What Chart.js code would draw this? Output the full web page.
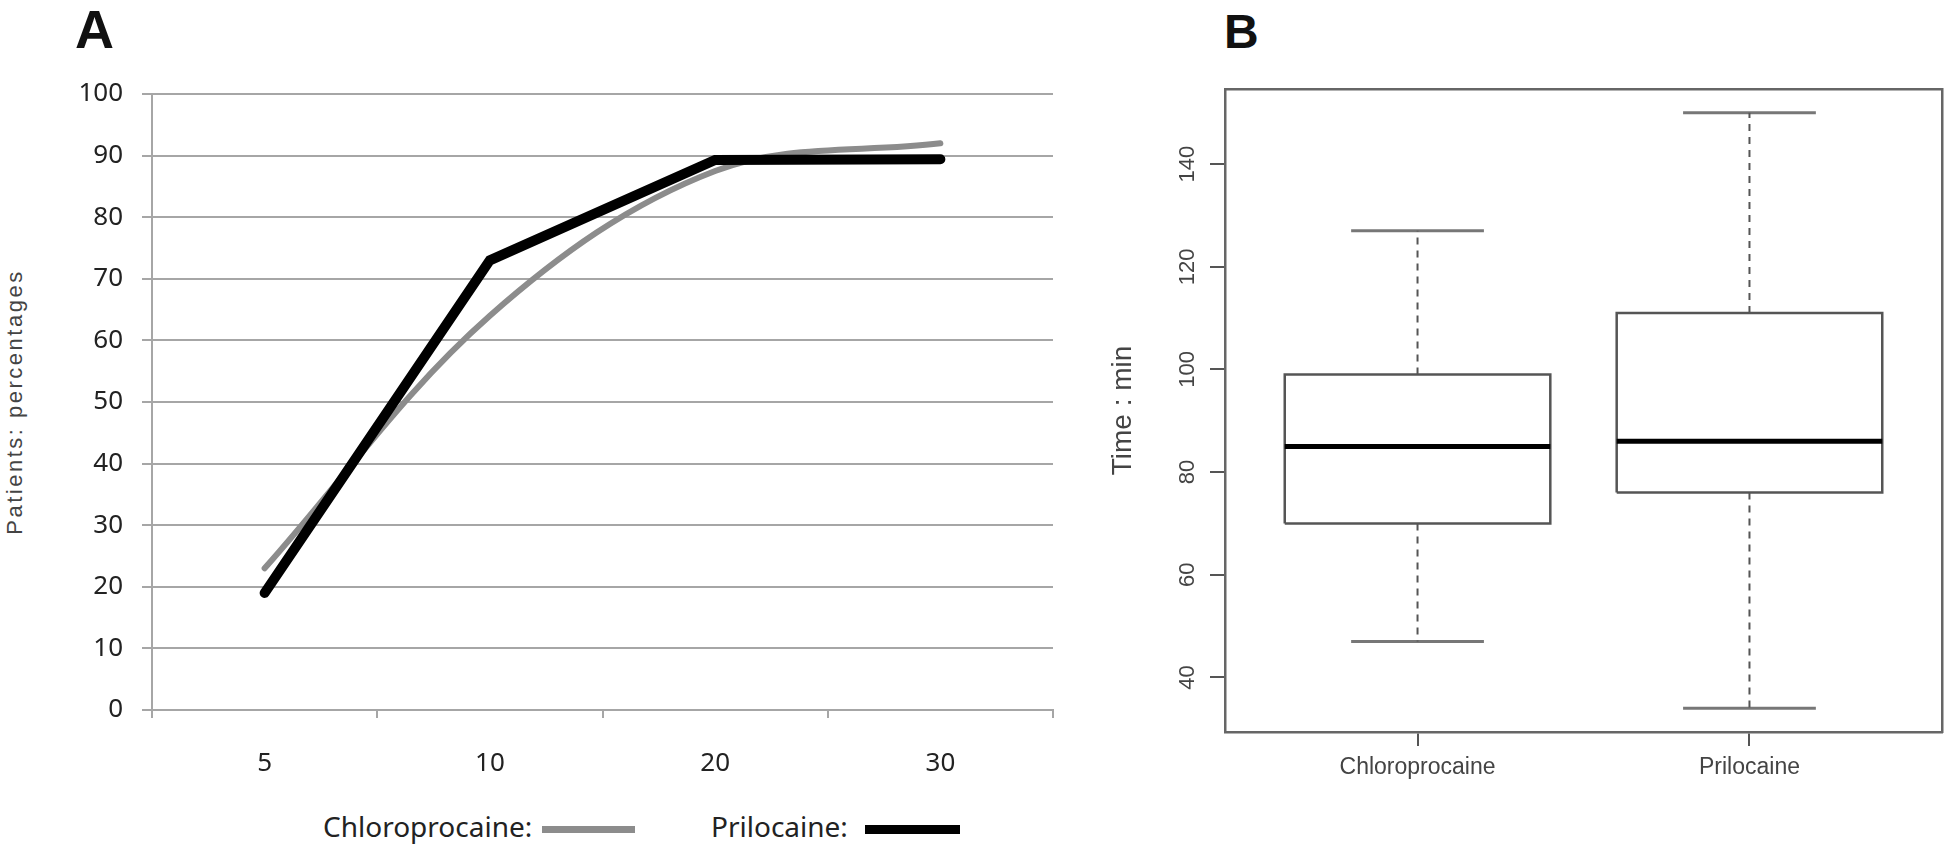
<!DOCTYPE html>
<html lang="en">
<head>
  <meta charset="UTF-8">
  <title>Chloroprocaine vs Prilocaine</title>
  <style>
    body { margin: 0; background: #fff; width: 1944px; height: 845px; overflow: hidden; position: relative; font-family: "Noto Sans", sans-serif; }
    canvas { position: absolute; }
    #chartA { left: 0; top: 0; }
    #chartB { left: 1090px; top: 0; }
    .panel { position: absolute; font-family: "Liberation Sans", Arial, sans-serif; font-weight: bold; color: #111; line-height: 1; }
    #titleA { left: 75px; top: 2px; font-size: 54px; }
    #titleB { left: 1224px; top: 8px; font-size: 48px; }
    #ylabelA { position: absolute; left: -135px; top: 390px; width: 300px; text-align: center;
      font-family: "Liberation Sans", Arial, sans-serif; font-size: 22px; letter-spacing: 2.5px; color: #444;
      line-height: 24px; transform: rotate(-90deg); }
    .leg { position: absolute; font-size: 28px; line-height: 28px; color: #222; top: 812px; }
    .swatch { position: absolute; }
  </style>
</head>
<body>
  <div id="titleA" class="panel">A</div>
  <div id="titleB" class="panel">B</div>
  <div id="ylabelA">Patients: percentages</div>
  <canvas id="chartA" width="1100" height="800"></canvas>
  <canvas id="chartB" width="854" height="845"></canvas>

  <span class="leg" style="left:323px">Chloroprocaine:</span>
  <div class="swatch" style="left:542px; top:826px; width:93px; height:7px; background:#8c8c8c"></div>
  <span class="leg" style="left:711px">Prilocaine:</span>
  <div class="swatch" style="left:865px; top:825px; width:95px; height:9px; background:#000"></div>

  <script src="https://cdn.jsdelivr.net/npm/chart.js"></script>
  <script>
    // Panel A: cumulative percentage of patients
    const minutes = ['5', '10', '20', '30'];
    const chloroPct = [23, 64, 87.5, 92];
    const priloPct = [19, 73, 89.3, 89.4];
    const pctTicks = [0, 10, 20, 30, 40, 50, 60, 70, 80, 90, 100];

    // Panel B: duration box plot (min)
    const groups = ['Chloroprocaine', 'Prilocaine'];
    const whiskerLow = [47, 34];
    const q1 = [70, 76];
    const median = [85, 86];
    const q3 = [99, 111];
    const whiskerHigh = [127, 150];
    const timeTicks = [40, 60, 80, 100, 120, 140];

    const gridGray = '#a6a6a6';

    function toPoints(values) {
      return values.map((v, i) => ({ x: i + 0.5, y: v }));
    }

    new Chart(document.getElementById('chartA'), {
      type: 'scatter',
      data: {
        datasets: [
          {
            label: 'Prilocaine',
            data: toPoints(priloPct),
            showLine: true,
            borderColor: '#000',
            borderWidth: 10,
            borderCapStyle: 'round',
            borderJoinStyle: 'miter',
            pointRadius: 0,
            tension: 0,
            order: 0
          },
          {
            label: 'Chloroprocaine',
            data: toPoints(chloroPct),
            showLine: true,
            borderColor: '#8c8c8c',
            borderWidth: 6,
            borderCapStyle: 'round',
            pointRadius: 0,
            tension: 0.35,
            order: 1
          }
        ]
      },
      options: {
        responsive: false,
        animation: false,
        layout: { padding: { left: 0, top: 94, right: 47, bottom: 0 } },
        plugins: { legend: { display: false }, tooltip: { enabled: false } },
        scales: {
          x: {
            type: 'linear',
            min: 0,
            max: minutes.length,
            afterBuildTicks: (scale) => {
              const t = [];
              for (let i = 0; i <= minutes.length * 2; i++) t.push({ value: i / 2 });
              scale.ticks = t;
            },
            afterFit: (scale) => { scale.height = 90; },
            grid: {
              drawOnChartArea: false,
              tickLength: 8,
              lineWidth: 2,
              tickColor: (c) => (c.tick && Number.isInteger(c.tick.value)) ? gridGray : 'rgba(0,0,0,0)'
            },
            border: { color: gridGray, width: 2 },
            ticks: {
              autoSkip: false,
              maxRotation: 0,
              padding: 30,
              color: '#222',
              font: { family: 'Noto Sans', size: 26 },
              callback: (v) => Number.isInteger(v) ? '' : minutes[Math.floor(v)]
            }
          },
          y: {
            min: 0,
            max: 100,
            afterBuildTicks: (scale) => { scale.ticks = pctTicks.map(v => ({ value: v })); },
            afterFit: (scale) => { scale.width = 152; },
            grid: { color: gridGray, lineWidth: 2, tickLength: 10 },
            border: { color: gridGray, width: 2 },
            ticks: {
              padding: 19,
              color: '#222',
              font: { family: 'Noto Sans', size: 26 }
            }
          }
        }
      }
    });

    // box plot pieces built from the summary arrays
    const boxHalf = 0.4, capHalf = 0.2;
    const boxSets = [];
    groups.forEach((g, i) => {
      const x = i + 1;
      const line = { showLine: true, pointRadius: 0, tension: 0, fill: false };
      boxSets.push(Object.assign({}, line, {
        label: g + ' upper whisker',
        data: [{ x: x, y: q3[i] }, { x: x, y: whiskerHigh[i] }],
        borderColor: '#555', borderWidth: 2, borderDash: [7, 6]
      }));
      boxSets.push(Object.assign({}, line, {
        label: g + ' lower whisker',
        data: [{ x: x, y: q1[i] }, { x: x, y: whiskerLow[i] }],
        borderColor: '#555', borderWidth: 2, borderDash: [7, 6]
      }));
      boxSets.push(Object.assign({}, line, {
        label: g + ' caps high',
        data: [{ x: x - capHalf, y: whiskerHigh[i] }, { x: x + capHalf, y: whiskerHigh[i] }],
        borderColor: '#777', borderWidth: 3
      }));
      boxSets.push(Object.assign({}, line, {
        label: g + ' caps low',
        data: [{ x: x - capHalf, y: whiskerLow[i] }, { x: x + capHalf, y: whiskerLow[i] }],
        borderColor: '#777', borderWidth: 3
      }));
      boxSets.push(Object.assign({}, line, {
        label: g + ' box',
        data: [
          { x: x - boxHalf, y: q1[i] }, { x: x + boxHalf, y: q1[i] },
          { x: x + boxHalf, y: q3[i] }, { x: x - boxHalf, y: q3[i] },
          { x: x - boxHalf, y: q1[i] }
        ],
        borderColor: '#555', borderWidth: 2.5, borderJoinStyle: 'miter'
      }));
      boxSets.push(Object.assign({}, line, {
        label: g + ' median',
        data: [{ x: x - boxHalf, y: median[i] }, { x: x + boxHalf, y: median[i] }],
        borderColor: '#000', borderWidth: 5, order: -1
      }));
    });

    // R-style axis range: data range extended by 4%
    const lo = Math.min(...whiskerLow), hi = Math.max(...whiskerHigh);
    const ext = (hi - lo) * 0.04;
    const frame = { color: '#666', width: 2.5 };

    new Chart(document.getElementById('chartB'), {
      type: 'scatter',
      data: { datasets: boxSets },
      options: {
        responsive: false,
        animation: false,
        layout: { padding: { left: 0, top: 89, right: 2, bottom: 0 } },
        plugins: { legend: { display: false }, tooltip: { enabled: false } },
        scales: {
          x: {
            type: 'linear',
            min: 0.42,
            max: groups.length + 0.58,
            afterBuildTicks: (scale) => { scale.ticks = groups.map((g, i) => ({ value: i + 1 })); },
            afterFit: (scale) => { scale.height = 113; },
            grid: { drawOnChartArea: false, tickLength: 14, color: '#555', lineWidth: 2 },
            border: frame,
            ticks: {
              autoSkip: false,
              maxRotation: 0,
              padding: 8,
              color: '#444',
              font: { family: 'Liberation Sans', size: 23 },
              callback: (v) => groups[v - 1]
            }
          },
          x2: {
            type: 'linear',
            position: 'top',
            min: 0.42,
            max: groups.length + 0.58,
            afterFit: (scale) => { scale.height = 0; },
            grid: { display: false },
            border: frame,
            ticks: { display: false }
          },
          y: {
            min: lo - ext,
            max: hi + ext,
            afterBuildTicks: (scale) => { scale.ticks = timeTicks.map(v => ({ value: v })); },
            afterFit: (scale) => { scale.width = 135; },
            grid: { drawOnChartArea: false, tickLength: 15, color: '#555', lineWidth: 2 },
            border: frame,
            title: {
              display: true,
              text: 'Time : min',
              color: '#444',
              font: { family: 'Liberation Sans', size: 28 },
              padding: { top: 16, bottom: 0 }
            },
            ticks: {
              minRotation: 90,
              maxRotation: 90,
              crossAlign: 'center',
              padding: 4,
              color: '#444',
              font: { family: 'Liberation Sans', size: 22 }
            }
          },
          y2: {
            position: 'right',
            min: lo - ext,
            max: hi + ext,
            afterFit: (scale) => { scale.width = 0; },
            grid: { display: false },
            border: frame,
            ticks: { display: false }
          }
        }
      }
    });
  </script>
</body>
</html>
